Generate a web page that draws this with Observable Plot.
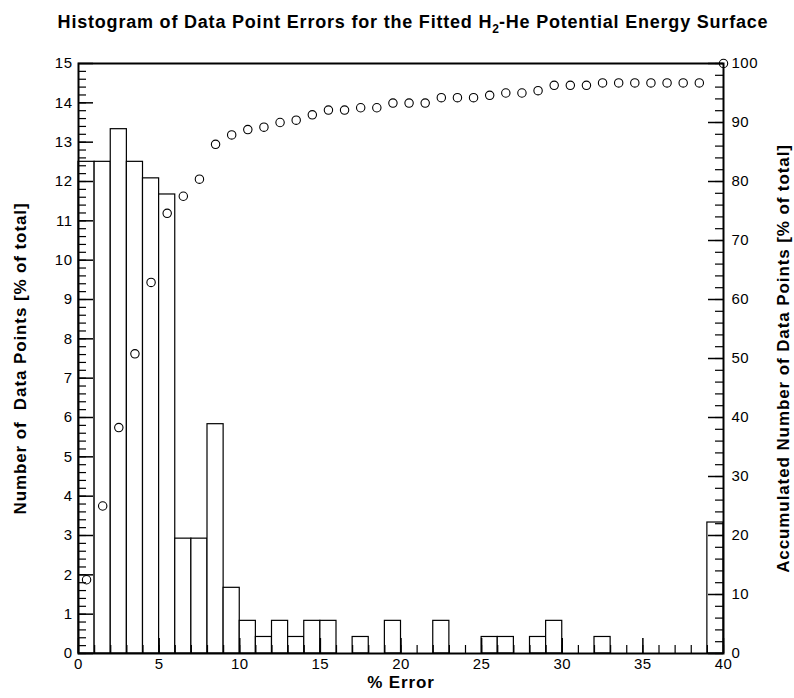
<!DOCTYPE html>
<html>
<head>
<meta charset="utf-8">
<script src="https://cdn.jsdelivr.net/npm/d3@7"></script>
<script src="https://cdn.jsdelivr.net/npm/@observablehq/plot@0.6"></script>
<style>
  body { margin: 0; background: white; }
  #title { width: 794px; height: 45px; box-sizing: border-box; padding-top: 11px; padding-left: 32px;
    text-align: center; font-family: "Liberation Sans", Arial, sans-serif;
    font-weight: bold; font-size: 18px; letter-spacing: 0.8px; color: black; line-height: 22px; white-space: nowrap; }
  #title sub { font-size: 12px; vertical-align: -5px; line-height: 0; letter-spacing: 0; }
  #chart svg text { letter-spacing: 0.5px; }
  #chart svg g[font-weight="bold"] text { letter-spacing: 0.9px; }
</style>
</head>
<body>
<div id="title">Histogram of Data Point Errors for the Fitted H<sub>2</sub>-He Potential Energy Surface</div>
<div id="chart"></div>
<script>
// Histogram bins (% error, lower edge of 1%-wide bins)
const binLow = [0,1,2,3,4,5,6,7,8,9,10,11,12,13,14,15,16,17,18,19,20,21,22,23,24,25,26,27,28,29,30,31,32,33,34,35,36,37,38,39];
// Number of data points per bin [% of total]
const binPct = [12.5,12.5,13.33,12.5,12.08,11.67,2.92,2.92,5.83,1.67,0.83,0.42,0.83,0.42,0.83,0.83,0,0.42,0,0.83,0,0,0.83,0,0,0.42,0.42,0,0.42,0.83,0,0,0.42,0,0,0,0,0,0,3.33];
// Accumulated number of data points [% of total]
const cumX = [0.5,1.5,2.5,3.5,4.5,5.5,6.5,7.5,8.5,9.5,10.5,11.5,12.5,13.5,14.5,15.5,16.5,17.5,18.5,19.5,20.5,21.5,22.5,23.5,24.5,25.5,26.5,27.5,28.5,29.5,30.5,31.5,32.5,33.5,34.5,35.5,36.5,37.5,38.5,40];
const cumPct = [12.5,25.0,38.3,50.8,62.9,74.6,77.5,80.4,86.3,87.9,88.8,89.2,90.0,90.4,91.3,92.1,92.1,92.5,92.5,93.3,93.3,93.3,94.2,94.2,94.2,94.6,95.0,95.0,95.4,96.3,96.3,96.3,96.7,96.7,96.7,96.7,96.7,96.7,96.7,100];
// Tick labels
const xTickLabels = [0,5,10,15,20,25,30,35,40];
const xMinorTicks = d3.range(0, 41, 1);
const yLeftTicks = [0,1,2,3,4,5,6,7,8,9,10,11,12,13,14,15];
const yLeftMinor = d3.range(0, 75).map(i => i * 0.2);
const yRightTicks = [0,10,20,30,40,50,60,70,80,90,100];
const yRightMinor = d3.range(0, 101, 2);

const leftMax = 15, rightMax = 100;
const toLeft = v => v * leftMax / rightMax;

const bars = binLow.map((lo, i) => ({lo, hi: lo + 1, pct: binPct[i]})).filter(d => d.pct > 0);
const cum = cumX.map((x, i) => ({x, pct: cumPct[i]}));

const W = 794, H = 653, mL = 78, mR = 71, mT = 18, mB = 45;
const plotW = W - mL - mR, plotH = H - mT - mB;

const chart = Plot.plot({
  width: W, height: H,
  marginLeft: mL, marginRight: mR, marginTop: mT, marginBottom: mB,
  style: {fontFamily: "'Liberation Sans', Arial, sans-serif", fontSize: "15px", color: "black", background: "white", overflow: "visible"},
  x: {domain: [0, 40]},
  y: {domain: [0, leftMax]},
  marks: [
    Plot.rect(bars, {x1: "lo", x2: "hi", y1: d => 0, y2: "pct", fill: "white", stroke: "black", strokeWidth: 1.2}),
    // inward tick marks
    Plot.tickY(yLeftMinor, {y: d => d, insetRight: plotW - 8, stroke: "black", strokeWidth: 1.2}),
    Plot.tickY(yLeftTicks, {y: d => d, insetRight: plotW - 15, stroke: "black", strokeWidth: 1.5}),
    Plot.tickY(yRightMinor.map(toLeft), {y: d => d, insetLeft: plotW - 8, stroke: "black", strokeWidth: 1.2}),
    Plot.tickY(yRightTicks.map(toLeft), {y: d => d, insetLeft: plotW - 15, stroke: "black", strokeWidth: 1.5}),
    Plot.tickX(xMinorTicks, {x: d => d, insetTop: plotH - 8, stroke: "black", strokeWidth: 1.2}),
    Plot.tickX(xTickLabels, {x: d => d, insetTop: plotH - 15, stroke: "black", strokeWidth: 1.5}),
    Plot.dot(cum, {x: "x", y: d => toLeft(d.pct), r: 4.2, stroke: "black", fill: "none", strokeWidth: 1.1}),
    Plot.frame({stroke: "black", strokeWidth: 2}),
    Plot.axisX({ticks: xTickLabels, tickSize: 0, tickPadding: 5, label: null, fontSize: 15}),
    Plot.axisY({anchor: "left", ticks: yLeftTicks, tickSize: 0, tickPadding: 6, label: null, fontSize: 15}),
    Plot.axisY({anchor: "right", ticks: yRightTicks.map(toLeft), tickFormat: d => Math.round(d * rightMax / leftMax), tickSize: 0, tickPadding: 8, label: null, fontSize: 15}),
    Plot.text(["% Error"], {frameAnchor: "bottom", dy: 34, fontWeight: "bold", fontSize: 17, textAnchor: "middle"}),
    Plot.text(["Number of  Data Points [% of total]"], {frameAnchor: "left", dx: -58, rotate: -90, fontWeight: "bold", fontSize: 17, textAnchor: "middle"}),
    Plot.text(["Accumulated Number of Data Points [% of total]"], {frameAnchor: "right", dx: 60, rotate: -90, fontWeight: "bold", fontSize: 17, textAnchor: "middle"})
  ]
});
document.getElementById("chart").append(chart);
</script>
</body>
</html>
